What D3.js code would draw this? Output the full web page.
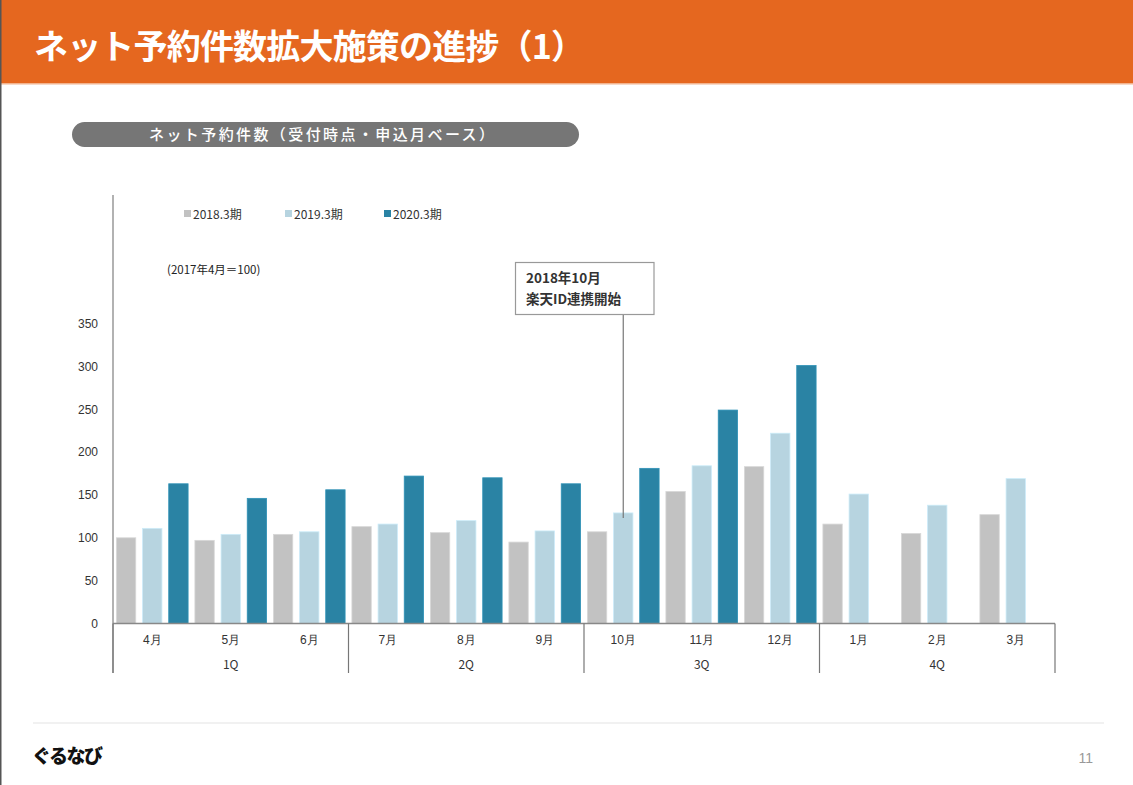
<!DOCTYPE html>
<html><head><meta charset="utf-8">
<script src="https://cdn.jsdelivr.net/npm/d3@7"></script>
<style>
body{margin:0;background:#fff;}
svg{display:block;font-family:"Noto Sans CJK JP","Noto Sans",sans-serif;}
</style></head>
<body>
<script>
const months = ["4月","5月","6月","7月","8月","9月","10月","11月","12月","1月","2月","3月"];
const quarters = ["1Q","2Q","3Q","4Q"];
const seriesNames = ["2018.3期","2019.3期","2020.3期"];
const fy2018 = [100, 97, 104, 113, 106, 95, 107, 154, 183, 116, 105, 127];
const fy2019 = [111, 104, 107, 116, 120, 108, 129, 184, 222, 151, 138, 169];
const fy2020 = [163, 146, 156, 172, 170, 163, 181, 249, 301, null, null, null];
const yTicks = [0, 50, 100, 150, 200, 250, 300, 350];
const colors = ["#C2C2C2", "#B7D4E0", "#2A83A4"];

const W = 1133, H = 785;
const svg = d3.select("body").append("svg").attr("width", W).attr("height", H);

// slide frame
svg.append("rect").attr("x",0).attr("y",0).attr("width",W).attr("height",H).attr("fill","#fff");
svg.append("rect").attr("x",0).attr("y",0).attr("width",W).attr("height",83).attr("fill","#E5671F");
svg.append("rect").attr("x",0).attr("y",83).attr("width",W).attr("height",1.5).attr("fill","#F2B48F");
svg.append("rect").attr("x",0).attr("y",0).attr("width",1.5).attr("height",H).attr("fill","#555");
svg.append("text").attr("x",34).attr("y",59).attr("fill","#fff")
  .attr("font-size",34).attr("font-weight",700)
  .attr("textLength",551).attr("lengthAdjust","spacing")
  .text("ネット予約件数拡大施策の進捗（1）");

// pill header
svg.append("rect").attr("x",72).attr("y",122).attr("width",507).attr("height",25)
  .attr("rx",12.5).attr("fill","#767676");
svg.append("text").attr("x",149).attr("y",140)
  .attr("fill","#fff").attr("font-size",15).attr("font-weight",500)
  .attr("textLength",345).attr("lengthAdjust","spacing")
  .text("ネット予約件数（受付時点・申込月ベース）");

// scales
const x0 = d3.scaleBand().domain(months).range([113, 1055]).paddingInner(0).paddingOuter(0);
const x1 = d3.scaleBand().domain(seriesNames).range([0, x0.bandwidth()]).paddingInner(0.26).paddingOuter(0.13);
const y = d3.scaleLinear().domain([0, 350]).range([623.5, 323.5]);

const data = [fy2018, fy2019, fy2020];

// y axis labels
const yAxis = d3.axisLeft(y).tickValues(yTicks).tickSize(0).tickPadding(15);
const gy = svg.append("g").attr("transform","translate(113,0)").call(yAxis);
gy.select(".domain").remove();
gy.selectAll("text").attr("font-size",12).attr("fill","#333")
  .attr("font-family","'Liberation Sans','DejaVu Sans',sans-serif");

// bars
seriesNames.forEach((s, si) => {
  svg.append("g").selectAll("rect")
    .data(months.map((m, i) => ({m, v: data[si][i]})).filter(d => d.v != null))
    .join("rect")
    .attr("x", d => x0(d.m) + x1(s))
    .attr("y", d => y(d.v))
    .attr("width", x1.bandwidth())
    .attr("height", d => y(0) - y(d.v))
    .attr("fill", colors[si])
    .attr("stroke", d3.color(colors[si]).brighter(0.3))
    .attr("stroke-width", 0.8);
});

// axis lines
svg.append("line").attr("x1",113).attr("x2",113).attr("y1",195).attr("y2",673)
  .attr("stroke","#999").attr("stroke-width",1.5);
svg.append("line").attr("x1",113).attr("x2",1055).attr("y1",623.5).attr("y2",623.5)
  .attr("stroke","#888").attr("stroke-width",1.5);

// quarter dividers
const qBounds = [0, 3, 6, 9, 12];
qBounds.forEach(i => {
  const xx = i < 12 ? x0(months[i]) : x0.range()[1];
  svg.append("line").attr("x1",xx).attr("x2",xx).attr("y1",623.5).attr("y2",673)
    .attr("stroke","#777").attr("stroke-width",1.2);
});

// month labels
const xAxis = d3.axisBottom(x0).tickSize(0).tickPadding(12);
const gx = svg.append("g").attr("transform","translate(0,623.5)").call(xAxis);
gx.select(".domain").remove();
gx.selectAll("text").attr("font-size",12).attr("fill","#333");

// quarter labels
quarters.forEach((q, qi) => {
  const a = x0(months[qi*3]);
  const b = x0(months[qi*3+2]) + x0.bandwidth();
  svg.append("text").attr("x",(a+b)/2).attr("y",669).attr("text-anchor","middle")
    .attr("font-size",12).attr("fill","#333").text(q);
});

// legend
const legX = [184, 285, 384];
seriesNames.forEach((s, si) => {
  svg.append("rect").attr("x",legX[si]).attr("y",210).attr("width",7).attr("height",7).attr("fill",colors[si]);
  svg.append("text").attr("x",legX[si]+9).attr("y",218.5).attr("font-size",12).attr("fill","#333").text(s);
});

svg.append("text").attr("x",167).attr("y",274).attr("font-size",11.5).attr("fill","#222")
  .text("(2017年4月＝100)");

// annotation
const annX = x0("10月") + x1("2019.3期") + x1.bandwidth()/2;
svg.append("line").attr("x1",annX).attr("x2",annX).attr("y1",315).attr("y2",518)
  .attr("stroke","#777").attr("stroke-width",1.2);
svg.append("rect").attr("x",515.5).attr("y",262.5).attr("width",138.5).attr("height",52)
  .attr("fill","#fff").attr("stroke","#999").attr("stroke-width",1.2);
svg.append("text").attr("x",526).attr("y",283).attr("font-size",13.5).attr("font-weight",700).attr("fill","#333").text("2018年10月");
svg.append("text").attr("x",526).attr("y",304).attr("font-size",13.5).attr("font-weight",700).attr("fill","#333").text("楽天ID連携開始");

// footer
svg.append("line").attr("x1",33).attr("x2",1104).attr("y1",723).attr("y2",723)
  .attr("stroke","#E3E3E3").attr("stroke-width",1.2);
svg.append("text").attr("x",32).attr("y",763).attr("font-size",19).attr("font-weight",900)
  .attr("fill","#111").attr("letter-spacing",-1.5).text("ぐるなび");
svg.append("text").attr("x",1093).attr("y",763).attr("text-anchor","end").attr("font-size",14)
  .attr("fill","#999").attr("font-family","'Liberation Sans',sans-serif").text("11");
</script>
</body></html>
